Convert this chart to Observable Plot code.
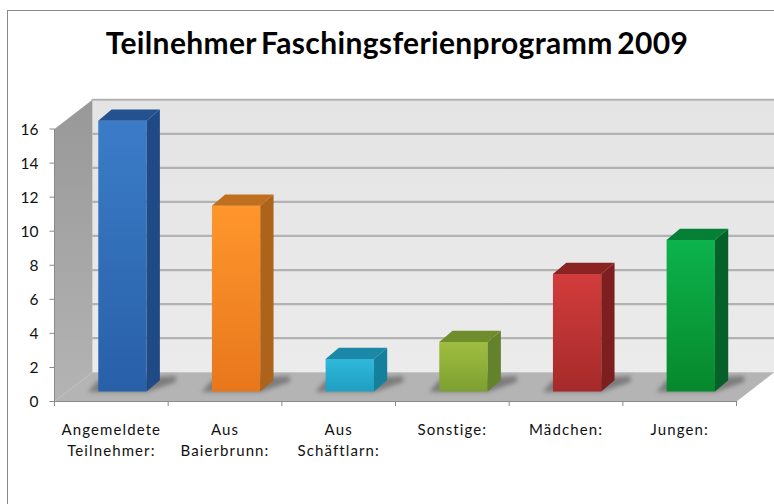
<!DOCTYPE html>
<html><head><meta charset="utf-8">
<script src="https://cdn.jsdelivr.net/npm/d3@7"></script>
<script src="https://cdn.jsdelivr.net/npm/@observablehq/plot@0.6"></script>
<style>
html,body{margin:0;padding:0;background:#fff}
#wrap{position:relative;width:774px;height:504px;overflow:hidden}
#border{position:absolute;left:7px;top:10px;width:767px;height:494px;border-left:1.5px solid #8a8a8a;border-top:1.5px solid #8a8a8a;pointer-events:none}
svg{position:absolute;left:0;top:0;display:block;background:transparent!important}
.cat text{letter-spacing:1.1px}
.ttl text{letter-spacing:.35px;word-spacing:-3px}
.shadow path{filter:blur(2px)}
</style></head><body><div id="wrap"><div id="border"></div></div>
<script>
const categories = ["Angemeldete\nTeilnehmer:", "Aus\nBaierbrunn:", "Aus\nSchäftlarn:", "Sonstige:", "Mädchen:", "Jungen:"];
const values = [16, 11, 2, 3, 7, 9];
const frontColors = [["#3b7cc8","#2860a8"],["#ff962c","#e8771c"],["#2fb8da","#1f9fc2"],["#9fbe40","#7d9f30"],["#d23c3c","#a62a2a"],["#0cb34c","#07882d"]];
const sideColors = ["#1f4a86","#ad631a","#14809c","#64812b","#7e1f1f","#06602a"];
const topColors = ["#24528f","#bf6f1e","#1a88a6","#6f8d2b","#8c2323","#067f36"];
const yTicks = [0,2,4,6,8,10,12,14,16];
const xTicks = [0,1,2,3,4,5,6];
const title = "Teilnehmer Faschingsferienprogramm 2009";

// depth of the 3-D box, in data units
const wallDX = 0.334, wallDY = 1.72;
const barL = 0.385, barW = 0.425, barBase = 0.59, barDX = 0.117, barDY = 0.66;

const poly = (id, pts) => pts.map(([x,y]) => ({id,x,y}));
const walls = poly("left",[[0,0],[0,16],[wallDX,16+wallDY],[wallDX,wallDY]]);
const back = poly("back",[[wallDX,wallDY],[wallDX,16+wallDY],[6+wallDX,16+wallDY],[6+wallDX,wallDY]]);
const floor = poly("floor",[[0,0],[6,0],[6+wallDX,wallDY],[wallDX,wallDY]]);

const front=[],side=[],top_=[],shadow=[];
values.forEach((v,i)=>{
  const a=i+barL,b=a+barW,c=b+barDX;
  const y0=barBase,y1=barBase+v-0.1;
  front.push(...poly(i,[[a,y0],[b,y0],[b,y1],[a,y1]]));
  side.push(...poly(i,[[b,y0],[c,y0+barDY],[c,y1+barDY],[b,y1]]));
  top_.push(...poly(i,[[a,y1],[b,y1],[c,y1+barDY],[a+barDX,y1+barDY]]));
  shadow.push(...poly(i,[[a-0.09,y0-0.03],[b,y0-0.03],[c+0.14,y0+barDY-0.1],[c+0.14,y0+barDY+0.25],[a,y0+barDY]]));
});
const faceLine=(d,fill,extra={})=>Plot.line(d,{x:"x",y:"y",z:"id",fill,stroke:"none",curve:"linear-closed",...extra});
const gridData = yTicks.slice(1).flatMap(t=>[{t,x:wallDX,y:t+wallDY},{t,x:6+wallDX,y:t+wallDY}]);

const chart = Plot.plot({
  width:774,height:504,
  marginTop:0,marginBottom:0,marginLeft:0,marginRight:0,
  x:{type:"linear",domain:[-54/113.67,(774-54)/113.67],range:[0,774],axis:null},
  y:{type:"linear",domain:[(401-504)/17.03,401/17.03],range:[504,0],axis:null},
  style:{background:"transparent"},
  marks:[
    ()=>{
      const NS="http://www.w3.org/2000/svg";
      const defs=document.createElementNS(NS,"defs");
      const grad=(id,x2,y2,c1,c2)=>{
        const g=document.createElementNS(NS,"linearGradient");
        g.setAttribute("id",id);g.setAttribute("x1","0");g.setAttribute("y1","0");g.setAttribute("x2",x2);g.setAttribute("y2",y2);
        [[0,c1],[1,c2]].forEach(([o,c])=>{const s=document.createElementNS(NS,"stop");s.setAttribute("offset",o);s.setAttribute("stop-color",c);g.appendChild(s);});
        defs.appendChild(g);
      };
      frontColors.forEach((c,i)=>grad("f"+i,"0","1",c[0],c[1]));
      grad("leftW","0","1","#989898","#b4b4b4");
      grad("backW","0","1","#e4e4e4","#ebebeb");
      return defs;
    },
    faceLine(back,"url(#backW)"),
    faceLine(walls,"url(#leftW)"),
    faceLine(floor,"#b4b4b4"),
    Plot.line(gridData,{x:"x",y:"y",z:"t",stroke:"#b2b2b2",strokeWidth:2.2}),
    faceLine(shadow,"#7c7c7c",{className:"shadow"}),
    ...values.flatMap((v,i)=>[
      faceLine(front.filter(d=>d.id===i),`url(#f${i})`),
      faceLine(side.filter(d=>d.id===i),sideColors[i]),
      faceLine(top_.filter(d=>d.id===i),topColors[i])
    ]),
    // value axis
    Plot.line([{x:0,y:0},{x:0,y:16}],{x:"x",y:"y",stroke:"#8a8a8a",strokeWidth:1}),
    Plot.line([{x:0,y:0},{x:6,y:0}],{x:"x",y:"y",stroke:"#8a8a8a",strokeWidth:1}),
    Plot.ruleY(yTicks,{y:d=>d,x1:-0.04,x2:0,stroke:"#8a8a8a"}),
    Plot.text(yTicks,{x:0,y:d=>d,text:d=>String(d),textAnchor:"end",dx:-16,dy:1,fontSize:15.5,fontFamily:"Lato",fill:"#111"}),
    // category axis
    Plot.ruleX(xTicks,{x:d=>d,y1:-0.3,y2:0,stroke:"#8a8a8a"}),
    Plot.text(categories,{x:(d,i)=>i+0.5,y:0,text:d=>d,dy:18,lineHeight:1.42,fontSize:15,fontFamily:"Lato",fill:"#111",lineAnchor:"top",className:"cat"}),
    // title
    Plot.text([title],{frameAnchor:"top",text:d=>d,dx:9.5,dy:32,fontSize:30,fontWeight:700,fontFamily:"Lato",fill:"#000",lineAnchor:"top",className:"ttl"})
  ]
});
document.getElementById("wrap").appendChild(chart);
</script></body></html>
